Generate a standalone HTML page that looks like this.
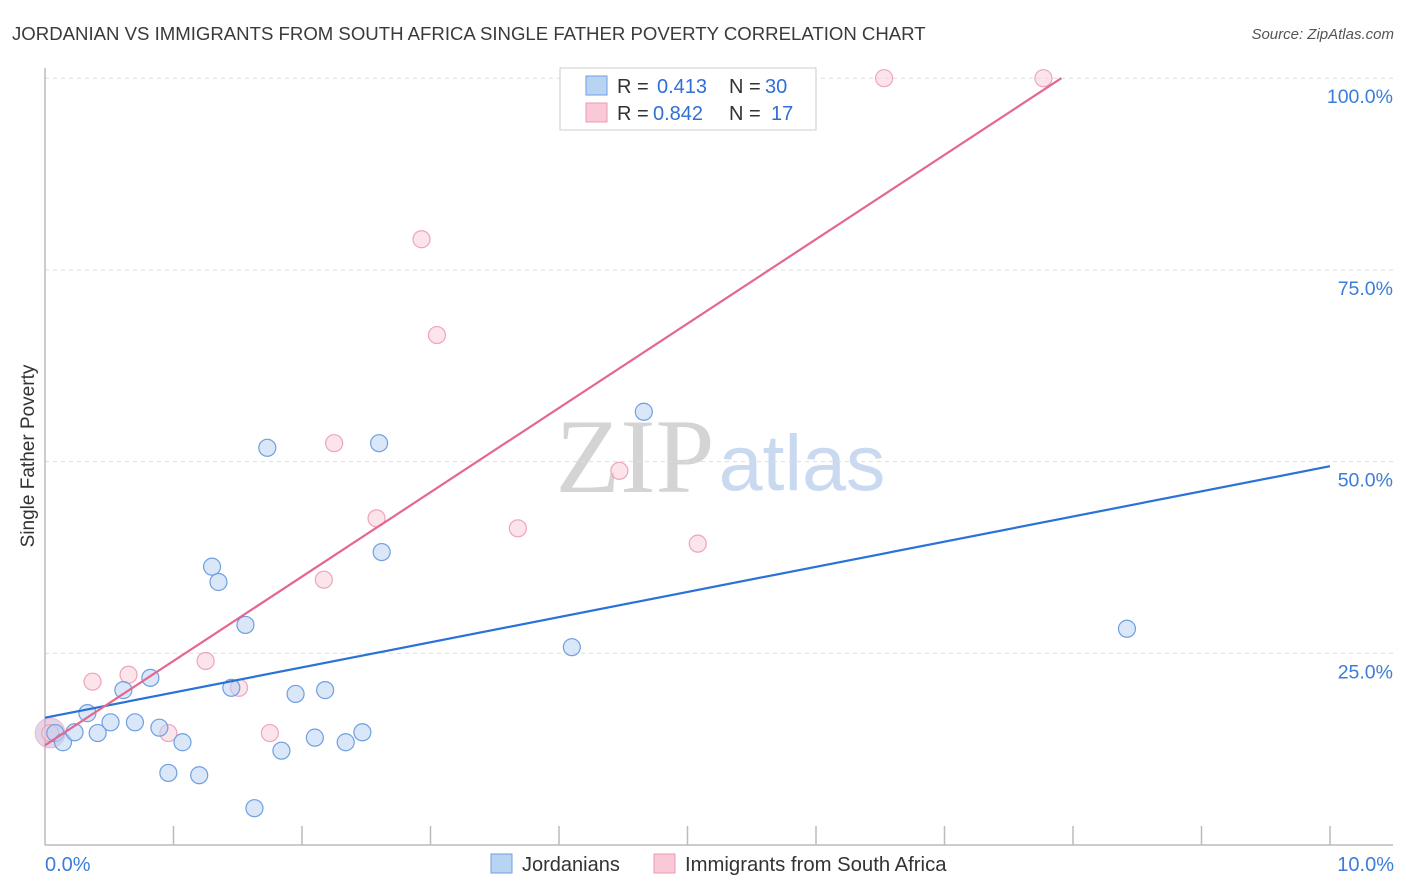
<!DOCTYPE html>
<html><head><meta charset="utf-8"><style>
body{margin:0;background:#fff;font-family:"Liberation Sans",sans-serif;}
svg{display:block}
</style></head><body>
<svg id="chart" width="1406" height="892" xmlns="http://www.w3.org/2000/svg">
<text x="12" y="40" font-size="18.6" fill="#3a3a3a">JORDANIAN VS IMMIGRANTS FROM SOUTH AFRICA SINGLE FATHER POVERTY CORRELATION CHART</text>
<text x="1394" y="39" font-size="15" fill="#555" text-anchor="end" font-style="italic">Source: ZipAtlas.com</text>
<text x="635" y="492" font-size="106" fill="#d4d4d4" font-family="Liberation Serif,serif" text-anchor="middle">ZIP</text>
<text x="802" y="490" font-size="79" fill="#c9daf0" text-anchor="middle">atlas</text>
<g id="grid"></g>
<line x1="45" y1="68" x2="45" y2="845" stroke="#bbb" stroke-width="1.5"/>
<line x1="45" y1="845" x2="1393" y2="845" stroke="#bbb" stroke-width="1.5"/>
<g id="ticks"></g>
<text x="34" y="456" font-size="19" fill="#333" text-anchor="middle" transform="rotate(-90 34 456)">Single Father Poverty</text>
<text x="45" y="871" font-size="20" fill="#3b7dd8">0.0%</text>
<text x="1394" y="871" font-size="20" fill="#3b7dd8" text-anchor="end">10.0%</text>
<g id="points"></g>
<g id="lines"></g>
<g>
<rect x="560" y="68" width="256" height="62" fill="#fff" stroke="#ccc"/>
<rect x="586" y="76" width="21" height="19" fill="#b9d3f3" stroke="#6e9fe0"/>
<rect x="586" y="103" width="21" height="19" fill="#f9c9d7" stroke="#ec9ab3"/>
<text y="93" font-size="20" fill="#333"><tspan x="617">R =</tspan><tspan x="657" fill="#2f6fd6">0.413</tspan><tspan x="729">N =</tspan><tspan x="765" fill="#2f6fd6">30</tspan></text>
<text y="120" font-size="20" fill="#333"><tspan x="617">R =</tspan><tspan x="653" fill="#2f6fd6">0.842</tspan><tspan x="729">N =</tspan><tspan x="771" fill="#2f6fd6">17</tspan></text>
</g>
<g>
<rect x="491" y="854" width="21" height="19" fill="#b9d3f3" stroke="#6e9fe0"/>
<text x="522" y="871" font-size="20" fill="#333">Jordanians</text>
</g>
<g>
<rect x="654" y="854" width="21" height="19" fill="#f9c9d7" stroke="#ec9ab3"/>
<text x="685" y="871" font-size="20.3" fill="#333">Immigrants from South Africa</text>
</g>
</svg>
<script>
const blueX=[0.08,0.14,0.23,0.33,0.41,0.51,0.61,0.70,0.82,0.89,0.96,1.07,1.20,1.30,1.35,1.45,1.56,1.63,1.73,1.84,1.95,2.10,2.18,2.34,2.47,2.60,2.62,4.10,4.66,8.42];
const blueY=[14.6,13.4,14.7,17.2,14.6,16.0,20.2,16.0,21.8,15.3,9.4,13.4,9.1,36.3,34.3,20.5,28.7,4.8,51.8,12.3,19.7,14.0,20.2,13.4,14.7,52.4,38.2,25.8,56.5,28.2];
const pinkX=[0.04,0.37,0.65,0.96,1.25,1.51,1.75,2.17,2.25,2.58,2.93,3.05,3.68,4.47,5.08,6.53,7.77];
const pinkY=[14.6,21.3,22.2,14.6,24.0,20.5,14.6,34.6,52.4,42.6,79.0,66.5,41.3,48.8,39.3,100,100];
const blueTrend=[16.6,3.28];
const pinkTrend=[13.0,11.0];
const yTicks=[25,50,75,100];
const yTickLabels=["25.0%","50.0%","75.0%","100.0%"];
const xTicks=[1,2,3,4,5,6,7,8,9,10];
const NS="http://www.w3.org/2000/svg";
const sx=v=>45+v*128.5, sy=v=>845-v*7.668;
function mk(t,a,p){const e=document.createElementNS(NS,t);for(const k in a)e.setAttribute(k,a[k]);p.appendChild(e);return e;}
const grid=document.getElementById('grid');
yTicks.forEach((t,i)=>{
 const l=mk('line',{x1:45,x2:1393,y1:sy(t),y2:sy(t),stroke:'#ddd','stroke-dasharray':'4,4'},grid);
 
 
 const tx=mk('text',{x:1393,y:sy(t)+25,'font-size':19.5,fill:'#3b7dd8','text-anchor':'end'},grid);
 tx.textContent=yTickLabels[i];
 
 
});
const ticks=document.getElementById('ticks');
xTicks.forEach(t=>{
 const l=mk('line',{x1:sx(t),x2:sx(t),y1:826,y2:845,stroke:'#bbb','stroke-width':1.5},ticks);
 
 
});
const pts=document.getElementById('points');
const big=mk('circle',{cx:sx(0.04),cy:sy(14.6),r:15,fill:'rgba(200,170,210,0.5)',stroke:'rgba(236,154,179,0.6)'},pts);


pinkX.forEach((x,i)=>{
 const c=mk('circle',{cx:sx(x),cy:sy(pinkY[i]),r:8.5,fill:'rgba(249,201,215,0.5)',stroke:'#eea4bb','stroke-width':1.2},pts);
 
 
});
blueX.forEach((x,i)=>{
 const c=mk('circle',{cx:sx(x),cy:sy(blueY[i]),r:8.5,fill:'rgba(185,211,243,0.55)',stroke:'#6e9fe0','stroke-width':1.2},pts);
 
 
});
const lines=document.getElementById('lines');
const bl=mk('line',{x1:sx(0),y1:sy(blueTrend[0]),x2:sx(10),y2:sy(blueTrend[0]+10*blueTrend[1]),stroke:'#2a72d8','stroke-width':2.2},lines);


const xe=(100-pinkTrend[0])/pinkTrend[1];
const pl=mk('line',{x1:sx(0),y1:sy(pinkTrend[0]),x2:sx(xe),y2:sy(100),stroke:'#e4678f','stroke-width':2.2},lines);


</script>
</body></html>
